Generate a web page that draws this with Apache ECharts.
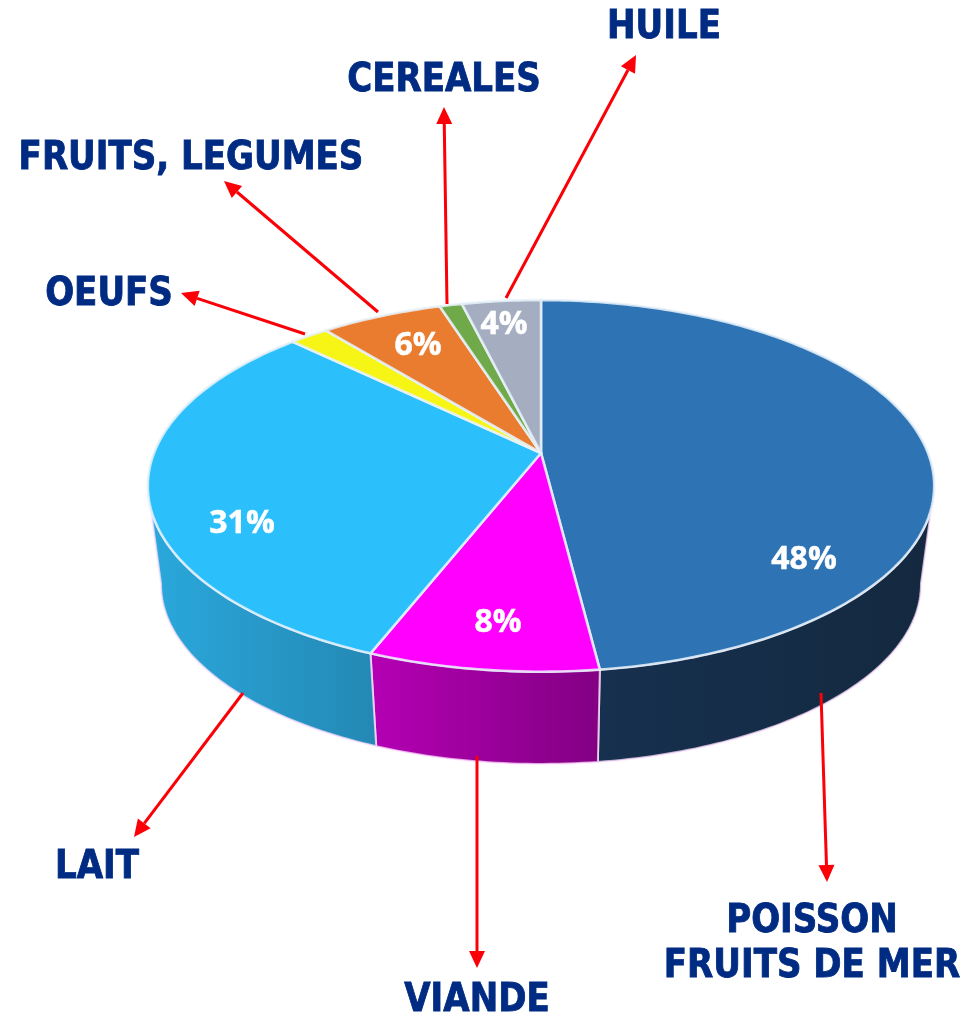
<!DOCTYPE html>
<html>
<head>
<meta charset="utf-8">
<style>html,body{margin:0;padding:0;background:#fff}#c{width:968px;height:1017px}</style>
<script src="https://cdn.jsdelivr.net/npm/echarts@6/dist/echarts.min.js"></script>
</head>
<body>
<div id="c"></div>
<script>
// ---- data (share of each food group, %) ----
var categories = ['POISSON\nFRUITS DE MER', 'VIANDE', 'LAIT', 'OEUFS', 'FRUITS, LEGUMES', 'CEREALES', 'HUILE'];
var shares = [48, 8, 31.2, 1.9, 5.95, 1.1, 3.85];
var shownLabels = ['48%', '8%', '31%', '', '6%', '', '4%'];

// ---- styles ----
var faceColors = ['#2e74b5', '#ff00ff', '#2bbffb', '#f7f516', '#e97c2f', '#70a94a', '#a5aec1'];
var wallLeft = ['#16304f', '#b400b4', '#2aa8dc', '#2aa8dc', '#2aa8dc', '#2aa8dc', '#2aa8dc'];
var wallRight = ['#14293f', '#820082', '#2488b4', '#2488b4', '#2488b4', '#2488b4', '#2488b4'];

// ---- layout of the tilted disc and of the call-outs ----
var disc = {cx: 541, cy: 453, rx: 387, ry: 180, persp: 0.177};
var base = {cx: 541, cy: 552.5, rx: 374, ry: 174, persp: 0.177};
var pctPos = [[804, 560], [498, 623], [242, 524], null, [418, 346], null, [504, 325]];
var arrows = [
  [[821, 693], [827, 882]],
  [[477, 756], [477, 968]],
  [[243, 693], [134, 837]],
  [[305, 334], [181, 293]],
  [[378, 312], [224, 181]],
  [[447, 304], [444, 107]],
  [[506, 298], [636, 55]]
];
var namePos = [[812, 944], [477, 1001], [97, 868], [109, 295], [191, 159], [444, 81], [664, 28]];

var total = shares.reduce(function (a, b) { return a + b; }, 0);
var starts = [];
shares.reduce(function (acc, v, i) { starts[i] = acc; return acc + v; }, 0);

function project(d, deg) {
  var t = deg * Math.PI / 180, u = Math.sin(t), v = Math.cos(t), w = 1 + d.persp * v;
  return [d.cx + d.rx * u / w, d.cy - d.ry * v / w];
}
function arc(d, a0, a1) {
  var pts = [], n = Math.max(1, Math.ceil(Math.abs(a1 - a0)));
  for (var i = 0; i <= n; i++) pts.push(project(d, a0 + (a1 - a0) * i / n));
  return pts;
}
function angles(i) {
  return [starts[i] / total * 360, (starts[i] + shares[i]) / total * 360];
}

function renderWall(params, api) {
  var i = params.dataIndex, a = angles(i);
  if (a[1] <= 100 || a[0] >= 260) return {type: 'group', children: []};
  var t0 = Math.max(a[0], 107), t1 = Math.min(a[1], 253);
  var b0 = a[0] < 107 ? 100 : a[0], b1 = a[1] > 253 ? 260 : a[1];
  var pts = arc(disc, t0, t1).concat(arc(base, b1, b0));
  return {
    type: 'polygon',
    shape: {points: pts},
    style: {
      fill: new echarts.graphic.LinearGradient(0, 0, 1, 0, [
        {offset: 0, color: wallLeft[i]}, {offset: 1, color: wallRight[i]}
      ]),
      stroke: 'rgba(255,225,255,0.75)', lineWidth: 2, lineJoin: 'round'
    }
  };
}
function renderFace(params, api) {
  var i = params.dataIndex, a = angles(i);
  var pts = [[disc.cx, disc.cy]].concat(arc(disc, a[0], a[1]));
  return {
    type: 'polygon',
    shape: {points: pts},
    style: {fill: faceColors[i], stroke: 'rgba(232,242,250,0.85)', lineWidth: 2.6, lineJoin: 'round'}
  };
}
function renderLabels(params, api) {
  var i = params.dataIndex, kids = [];
  var tail = arrows[i][0], tip = arrows[i][1];
  var dx = tip[0] - tail[0], dy = tip[1] - tail[1], len = Math.sqrt(dx * dx + dy * dy);
  var ux = dx / len, uy = dy / len, hl = 17, hw = 8;
  var neck = [tip[0] - ux * hl, tip[1] - uy * hl];
  kids.push({type: 'line', shape: {x1: tail[0], y1: tail[1], x2: neck[0], y2: neck[1]},
    style: {stroke: '#fb0007', lineWidth: 3}});
  kids.push({type: 'polygon', shape: {points: [tip,
    [neck[0] - uy * hw, neck[1] + ux * hw], [neck[0] + uy * hw, neck[1] - ux * hw]]},
    style: {fill: '#fb0007'}});
  kids.push({type: 'text', x: namePos[i][0], y: namePos[i][1], scaleX: 0.885, style: {
    text: categories[i], fill: '#002b82', stroke: '#002b82', lineWidth: 0.9, font: 'bold 38.5px "DejaVu Sans"',
    align: 'center', verticalAlign: 'middle', lineHeight: 45
  }});
  if (shownLabels[i]) {
    kids.push({type: 'text', x: pctPos[i][0], y: pctPos[i][1], style: {
      text: shownLabels[i], fill: '#ffffff', stroke: '#ffffff', lineWidth: 0.5, font: 'bold 32px "Open Sans"',
      align: 'center', verticalAlign: 'middle'
    }});
  }
  return {type: 'group', children: kids};
}

var rows = shares.map(function (v, i) { return {name: categories[i], value: v}; });
var chart = echarts.init(document.getElementById('c'), null, {renderer: 'canvas'});
chart.setOption({
  animation: false,
  backgroundColor: '#ffffff',
  series: [
    {type: 'custom', name: 'walls', coordinateSystem: 'none', data: rows, renderItem: renderWall, silent: true, z: 1},
    {type: 'custom', name: 'faces', coordinateSystem: 'none', data: rows, renderItem: renderFace, silent: true, z: 2},
    {type: 'custom', name: 'labels', coordinateSystem: 'none', data: rows, renderItem: renderLabels, silent: true, z: 3}
  ]
});
</script>
</body>
</html>
